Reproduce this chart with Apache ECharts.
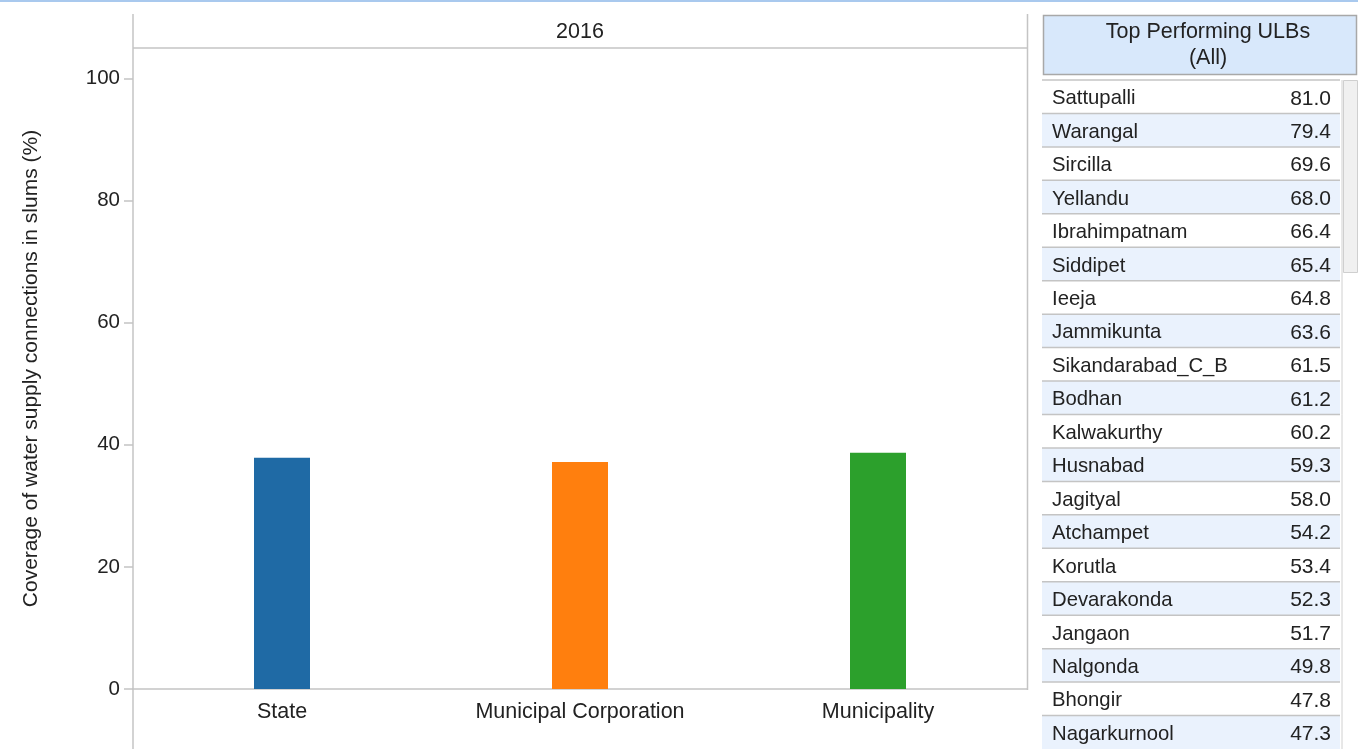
<!DOCTYPE html>
<html><head><meta charset="utf-8">
<script src="https://cdn.jsdelivr.net/npm/echarts@6.0.0/dist/echarts.min.js"></script>
<style>html,body{margin:0;padding:0;background:#fff}#c{width:1358px;height:749px}</style>
</head><body><div id="c"></div><script>
const categories = ['State', 'Municipal Corporation', 'Municipality'];
const coverage = [37.9, 37.2, 38.7];
const barColors = ['#1f6aa5', '#ff7f0e', '#2ca02c'];
const yTicks = [0, 20, 40, 60, 80, 100];
const facetTitle = '2016';
const yAxisTitle = 'Coverage of water supply connections in slums (%)';
const tableTitle = 'Top Performing ULBs\n(All)';
const ulbNames = ['Sattupalli', 'Warangal', 'Sircilla', 'Yellandu', 'Ibrahimpatnam', 'Siddipet', 'Ieeja', 'Jammikunta', 'Sikandarabad_C_B', 'Bodhan', 'Kalwakurthy', 'Husnabad', 'Jagityal', 'Atchampet', 'Korutla', 'Devarakonda', 'Jangaon', 'Nalgonda', 'Bhongir', 'Nagarkurnool'];
const ulbValues = [81.0, 79.4, 69.6, 68.0, 66.4, 65.4, 64.8, 63.6, 61.5, 61.2, 60.2, 59.3, 58.0, 54.2, 53.4, 52.3, 51.7, 49.8, 47.8, 47.3];

const FONT = '"Liberation Sans", Arial, sans-serif';
const TXT = '#222';
const LINE = '#c4c4c4';

const chart = echarts.init(document.getElementById('c'));
chart.setOption({
  animation: false,
  textStyle: { fontFamily: FONT },
  grid: [
    { left: 133, right: 331, top: 48, bottom: 60 },
    { left: 1042, width: 298, top: 80, height: 674 }
  ],
  xAxis: [
    {
      gridIndex: 0, type: 'category', data: categories,
      axisLine: { lineStyle: { color: LINE, width: 1.5 } },
      axisTick: { length: 7, lineStyle: { color: LINE, width: 1.5 } },
      axisLabel: { fontSize: 21.5, color: TXT, margin: 12, fontFamily: FONT }
    },
    { gridIndex: 1, type: 'value', min: 0, max: 1, show: false }
  ],
  yAxis: [
    {
      gridIndex: 0, type: 'value', min: 0, max: 105, interval: 20,
      name: yAxisTitle, nameLocation: 'middle', nameGap: 91,
      nameTextStyle: { fontSize: 21, color: TXT, fontFamily: FONT },
      axisLine: { show: false },
      axisTick: { show: true, length: 9, customValues: yTicks, lineStyle: { color: LINE, width: 1.5 } },
      axisLabel: { fontSize: 20.5, color: TXT, margin: 13, customValues: yTicks, fontFamily: FONT, padding: [2, 0, 0, 0] },
      splitLine: { show: false }
    },
    { gridIndex: 1, type: 'category', data: ulbNames, inverse: true, show: false }
  ],
  series: [
    {
      type: 'bar', xAxisIndex: 0, yAxisIndex: 0, barWidth: 56,
      data: coverage.map((v, i) => ({ value: v, itemStyle: { color: barColors[i] } }))
    },
    {
      type: 'custom', xAxisIndex: 1, yAxisIndex: 1, clip: false,
      data: ulbValues.map((v, i) => [0, i, v]),
      encode: { x: 0, y: 1 },
      renderItem: function (params, api) {
        const i = api.value(1);
        const v = api.value(2);
        const c = api.coord([0, i]);
        const h = api.size([0, 1])[1];
        const cs = params.coordSys;
        const top = c[1] - h / 2;
        return {
          type: 'group',
          children: [
            { type: 'rect', shape: { x: cs.x, y: top, width: cs.width, height: h },
              style: { fill: i % 2 === 1 ? '#eaf2fd' : '#ffffff' } },
            { type: 'line', shape: { x1: cs.x, y1: top, x2: cs.x + cs.width, y2: top },
              style: { stroke: LINE, lineWidth: 1.5 } },
            { type: 'text', style: { text: ulbNames[i], x: cs.x + 10, y: c[1] + 2, align: 'left', verticalAlign: 'middle',
              font: '20.3px ' + FONT, fill: TXT } },
            { type: 'text', style: { text: v.toFixed(1), x: cs.x + cs.width - 9, y: c[1] + 2, align: 'right', verticalAlign: 'middle',
              font: '21px ' + FONT, fill: TXT } }
          ]
        };
      }
    }
  ],
  graphic: [
    { type: 'rect', shape: { x: 0, y: 0, width: 1358, height: 2 }, style: { fill: '#a9c9ee' } },
    { type: 'line', shape: { x1: 133, y1: 14, x2: 133, y2: 749 }, style: { stroke: LINE, lineWidth: 1.5 } },
    { type: 'line', shape: { x1: 1027.5, y1: 14, x2: 1027.5, y2: 690 }, style: { stroke: LINE, lineWidth: 1.5 } },
    { type: 'line', shape: { x1: 133, y1: 48, x2: 1027.5, y2: 48 }, style: { stroke: LINE, lineWidth: 1.5 } },
    { type: 'text', style: { text: facetTitle, x: 580, y: 32, align: 'center', verticalAlign: 'middle', font: '21.5px ' + FONT, fill: TXT } },
    { type: 'rect', shape: { x: 1043.5, y: 15.5, width: 313, height: 59 }, style: { fill: '#d8e8fb', stroke: '#a8a8a8', lineWidth: 1.5 } },
    { type: 'text', style: { text: tableTitle, x: 1208, y: 45, align: 'center', verticalAlign: 'middle', font: '21.5px ' + FONT, fill: TXT, lineHeight: 26 } },
    { type: 'line', shape: { x1: 1342, y1: 80, x2: 1342, y2: 749 }, style: { stroke: '#d0d0d0', lineWidth: 1 } },
    { type: 'rect', shape: { x: 1343.5, y: 80.5, width: 14, height: 192 }, style: { fill: '#f0f0f0', stroke: '#cfcfcf', lineWidth: 1 } }
  ]
});
</script></body></html>
